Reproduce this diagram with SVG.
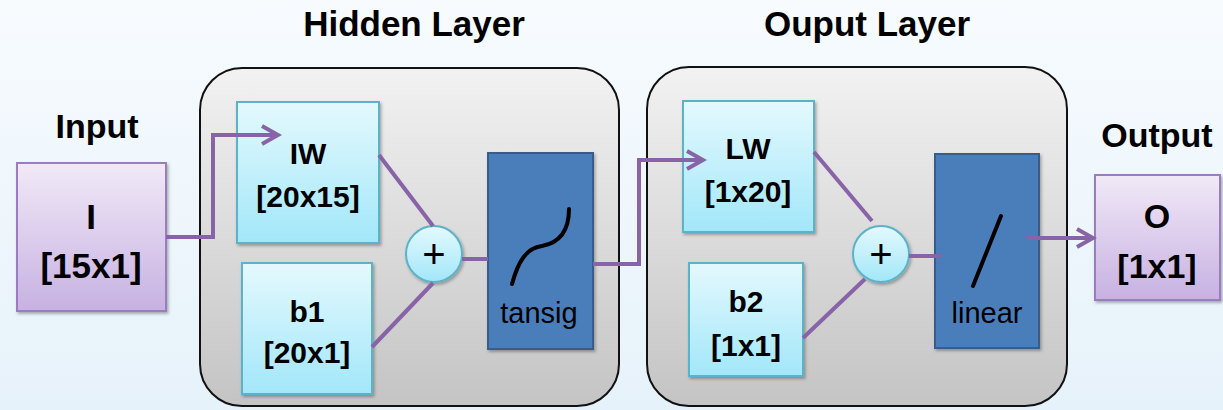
<svg xmlns="http://www.w3.org/2000/svg" width="1223" height="410" viewBox="0 0 1223 410">
<defs>
<linearGradient id="bg" x1="0" y1="0" x2="0" y2="1"><stop offset="0" stop-color="#f7fbfe"/><stop offset="1" stop-color="#e6f2fa"/></linearGradient>
<linearGradient id="layer" x1="0" y1="0" x2="0" y2="1"><stop offset="0" stop-color="#f2f2f2"/><stop offset="1" stop-color="#c4c4c4"/></linearGradient>
<linearGradient id="io" x1="0" y1="0" x2="0" y2="1"><stop offset="0" stop-color="#f1e9f7"/><stop offset="1" stop-color="#c7b1e2"/></linearGradient>
<linearGradient id="cy" x1="0" y1="0" x2="0" y2="1"><stop offset="0" stop-color="#e4f9fe"/><stop offset="1" stop-color="#a2e7f9"/></linearGradient>
<filter id="sh" x="-10%" y="-10%" width="130%" height="130%"><feDropShadow dx="1.5" dy="2" stdDeviation="1.5" flood-color="#000" flood-opacity="0.3"/></filter>
<marker id="arr" viewBox="0 0 24 24" refX="20" refY="12" markerWidth="24" markerHeight="24" markerUnits="userSpaceOnUse" orient="auto">
<path d="M4,3 L20,12 L4,21" fill="none" stroke="#8863a8" stroke-width="4" stroke-linejoin="miter"/>
</marker>
</defs>
<style>
.lay{fill:url(#layer);stroke:#111;stroke-width:2}
.io{fill:url(#io);stroke:#9b7dbf;stroke-width:2;filter:url(#sh)}
.cy{fill:url(#cy);stroke:#5cb3c9;stroke-width:2;filter:url(#sh)}
.fn{fill:#4a7ebb;stroke:#385d8a;stroke-width:2;filter:url(#sh)}
.t{font-family:"Liberation Sans",Arial,sans-serif;font-weight:bold;fill:#000;text-anchor:middle}
.tn{font-family:"Liberation Sans",Arial,sans-serif;fill:#000;text-anchor:middle}
.c{fill:none;stroke:#8863a8;stroke-width:4}
.curve{fill:none;stroke:#000;stroke-width:4;stroke-linecap:round}
</style>
<rect width="1223" height="410" fill="url(#bg)"/>
<text class="t" x="414" y="36" font-size="35">Hidden Layer</text>
<text class="t" x="867" y="36" font-size="35">Ouput Layer</text>
<g id="hidden-layer"><rect class="lay" x="200" y="68" width="419" height="338" rx="42"/></g>
<g id="output-layer"><rect class="lay" x="647" y="67" width="420" height="339" rx="42"/></g>
<g id="input">
<text class="t" x="97" y="138" font-size="34">Input</text>
<rect class="io" x="17" y="163" width="149" height="148"/>
<text class="t" x="91" y="229" font-size="35">I</text>
<text class="t" x="91" y="278" font-size="35">[15x1]</text>
</g>
<g id="IW">
<rect class="cy" x="237" y="102" width="142" height="141"/>
<text class="t" x="308" y="164" font-size="30">IW</text>
<text class="t" x="308" y="207" font-size="30">[20x15]</text>
</g>
<g id="b1">
<rect class="cy" x="242" y="263" width="130" height="131"/>
<text class="t" x="307" y="322" font-size="30">b1</text>
<text class="t" x="307" y="363" font-size="30">[20x1]</text>
</g>
<g id="sum1">
<circle class="cy" cx="434" cy="254" r="28"/>
<text class="tn" x="434" y="268" font-size="40">+</text>
</g>
<g id="tansig">
<rect class="fn" x="488" y="153" width="105" height="196"/>
<path class="curve" d="M512,284 C518,262 526,248 542,246 C558,243 569,232 569,209"/>
<text class="tn" x="539" y="323" font-size="29">tansig</text>
</g>
<g id="LW">
<rect class="cy" x="683" y="101" width="131" height="131"/>
<text class="t" x="748" y="159" font-size="30">LW</text>
<text class="t" x="748" y="202" font-size="30">[1x20]</text>
</g>
<g id="b2">
<rect class="cy" x="689" y="263" width="114" height="113"/>
<text class="t" x="746" y="312" font-size="30">b2</text>
<text class="t" x="746" y="356" font-size="30">[1x1]</text>
</g>
<g id="sum2">
<circle class="cy" cx="881" cy="254" r="28"/>
<text class="tn" x="881" y="268" font-size="40">+</text>
</g>
<g id="linear">
<rect class="fn" x="935" y="154" width="104" height="194"/>
<path class="curve" d="M973,286 L1001,216"/>
<text class="tn" x="987" y="323" font-size="29">linear</text>
</g>
<g id="output">
<text class="t" x="1157" y="147" font-size="34">Output</text>
<rect class="io" x="1095" y="175" width="125" height="125"/>
<text class="t" x="1157" y="228" font-size="34">O</text>
<text class="t" x="1157" y="278" font-size="34">[1x1]</text>
</g>
<g id="connectors">
<path class="c" d="M166,237 H213 V135 H278" marker-end="url(#arr)"/>
<path class="c" d="M379,155 L433,226"/>
<path class="c" d="M372,347 L433,283"/>
<path class="c" d="M462,259 H488"/>
<path class="c" d="M593,264 H639 V160 H703" marker-end="url(#arr)"/>
<path class="c" d="M814,152 L872,221"/>
<path class="c" d="M803,338 L865,279"/>
<path class="c" d="M909,256 H941"/>
<path class="c" d="M1027,238 H1093" marker-end="url(#arr)"/>
</g>
</svg>
